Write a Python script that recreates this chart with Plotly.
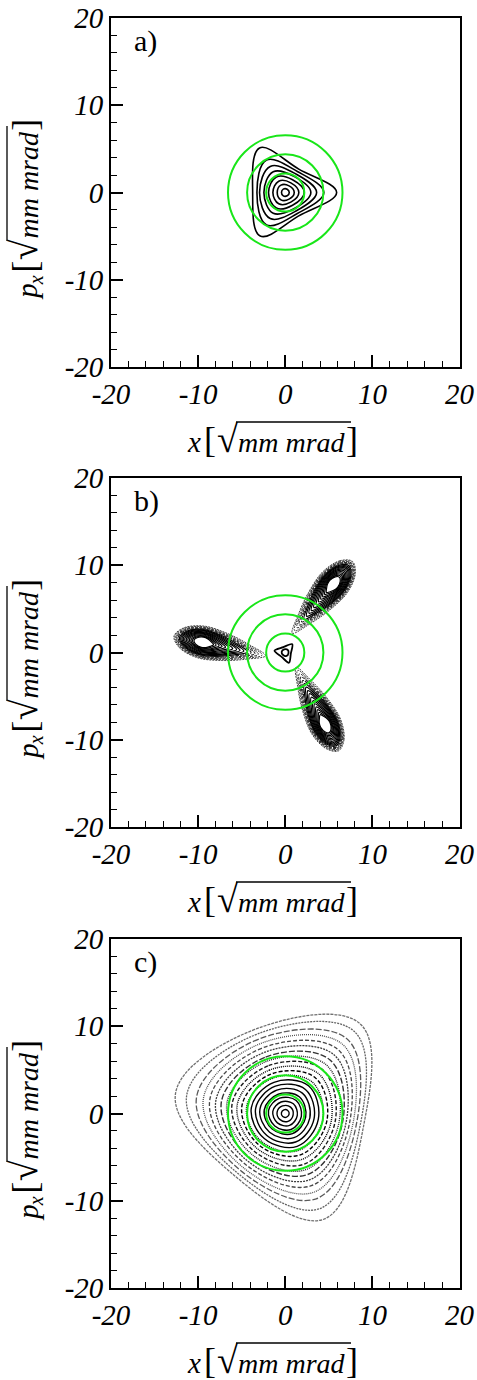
import math
import plotly.graph_objects as go

FONT = "Liberation Serif, Times New Roman, Times, serif"

# ---------------- data ----------------
TICK_VALS = [-20, -10, 0, 10, 20]
TICK_TEXT = ["-20", "-10", "0", "10", "20"]
PANEL_LABELS = ["a)", "b)", "c)"]

# green reference circles (1, 2, 3 sigma)
SIGMA_RADII = [2.19, 4.38, 6.57]

# panel a: invariant curves, radius (in sqrt(mm mrad)) at six directions
A_ANGLES = [0, 60, 120, 180, 240, 300]
A_RINGS = [
    [0.46, 0.44, 0.45, 0.43, 0.45, 0.44],
    [1.03, 0.88, 0.98, 0.92, 0.98, 0.88],
    [1.56, 1.28, 1.50, 1.42, 1.50, 1.28],
    [2.18, 1.68, 2.05, 1.92, 2.05, 1.68],
    [2.94, 2.10, 2.75, 2.45, 2.75, 2.10],
    [3.60, 2.45, 3.45, 2.95, 3.45, 2.45],
    [4.43, 2.78, 4.30, 3.25, 4.30, 2.78],
    [5.90, 3.10, 5.90, 3.74, 5.75, 3.10],
]

# panel b: three resonance islands (centre, axis direction, nested orbits)
PETAL_CX = [5.5, -9.4, 4.55]
PETAL_CY = [7.8, 1.15, -8.2]
PETAL_AXIS_DEG = [50, 168, -63]
PETAL_FAR = [1.1, 1.28, 1.46, 1.64, 1.82, 2.0, 2.18, 2.35, 2.5, 2.65, 2.8, 2.95, 3.1, 3.22, 3.34, 3.45]
PETAL_NEAR = [1.2, 1.5, 1.85, 2.2, 2.6, 3.0, 3.45, 3.9, 4.3, 4.75, 5.2, 5.6, 6.05, 6.45, 6.9, 7.3]
PETAL_HALF_W = [0.6, 0.68, 0.76, 0.84, 0.93, 1.02, 1.11, 1.2, 1.29, 1.37, 1.45, 1.53, 1.61, 1.69, 1.77, 1.85]
B_CORE_ANGLES = [50, 110, 170, 230, 290, 350]
B_CORE = [
    [0.42, 0.38, 0.42, 0.38, 0.42, 0.38],
    [1.25, 0.65, 1.25, 0.65, 1.25, 0.65],
]

# panel c: invariant curves at six directions
C_ANGLES = [50, 110, 170, 230, 290, 350]
C_RINGS = [
    [0.45, 0.45, 0.45, 0.45, 0.45, 0.45],
    [0.95, 0.92, 0.95, 0.92, 0.95, 0.92],
    [1.45, 1.40, 1.45, 1.40, 1.45, 1.40],
    [1.95, 1.87, 1.95, 1.87, 1.95, 1.88],
    [2.50, 2.35, 2.45, 2.33, 2.45, 2.38],
    [3.05, 2.85, 2.95, 2.80, 2.95, 2.87],
    [3.60, 3.33, 3.45, 3.28, 3.48, 3.36],
    [4.15, 3.80, 3.95, 3.75, 4.00, 3.85],
    [4.75, 4.30, 4.50, 4.20, 4.50, 4.35],
    [5.35, 4.80, 5.05, 4.70, 5.05, 4.85],
    [5.95, 5.30, 5.60, 5.15, 5.60, 5.35],
    [6.60, 5.80, 6.20, 5.60, 6.20, 5.80],
    [7.30, 6.35, 6.80, 6.05, 6.85, 6.25],
    [8.00, 6.85, 7.45, 6.50, 7.45, 6.65],
    [8.75, 7.40, 8.10, 6.95, 8.10, 7.05],
    [9.50, 7.95, 8.80, 7.40, 8.80, 7.45],
    [10.30, 8.50, 9.55, 7.85, 9.60, 7.85],
    [11.10, 9.05, 10.35, 8.30, 10.40, 8.25],
    [12.30, 9.65, 11.50, 8.75, 11.60, 8.70],
    [13.40, 10.25, 12.80, 9.20, 12.90, 9.10],
]

# ---------------- layout geometry ----------------
W, H = 477, 1380
X_DOM = [111 / W, 459.5 / W]
PANEL_TOP = [18, 478, 939]
PANEL_SIZE = 349


def ydom(top):
    return [1 - (top + PANEL_SIZE) / H, 1 - top / H]


def ring_xy(radii, angles):
    xs = [r * math.cos(math.radians(a)) for r, a in zip(radii, angles)]
    ys = [r * math.sin(math.radians(a)) for r, a in zip(radii, angles)]
    return xs + xs[:1], ys + ys[:1]


def petal_xy(cx, cy, axis_deg, far, near, hw):
    loc = [(far, 0), (0.75 * far, 0.62 * hw), (0.1 * far, hw), (-0.35 * near, 0.85 * hw),
           (-0.72 * near, 0.45 * hw), (-near, 0), (-0.72 * near, -0.45 * hw),
           (-0.35 * near, -0.85 * hw), (0.1 * far, -hw), (0.75 * far, -0.62 * hw)]
    ca, sa = math.cos(math.radians(axis_deg)), math.sin(math.radians(axis_deg))
    xs = [cx + u * ca - v * sa for u, v in loc]
    ys = [cy + u * sa + v * ca for u, v in loc]
    return xs + xs[:1], ys + ys[:1]


fig = go.Figure()


def add_curve(xs, ys, ax, color="black", width=1.4, dash="solid", smoothing=1.2):
    fig.add_trace(go.Scatter(
        x=xs, y=ys, mode="lines", xaxis="x" + ax, yaxis="y" + ax,
        line=dict(color=color, width=width, dash=dash, shape="spline", smoothing=smoothing),
        hoverinfo="skip", showlegend=False))


# panel a
for radii in A_RINGS:
    xs, ys = ring_xy(radii, A_ANGLES)
    add_curve(xs, ys, "", width=1.6, smoothing=1.1)

# panel b
PETAL_STYLES = ([("black", 1.2, "solid")] * 11
                + [("#1e1e1e", 1.1, "4px,1px"), ("#2a2a2a", 1.1, "3px,1px"),
                   ("#333333", 1.0, "3px,1px"), ("#3d3d3d", 1.0, "2px,1px"),
                   ("#474747", 1.0, "2px,1px")])
for p in range(3):
    for i in range(len(PETAL_FAR)):
        xs, ys = petal_xy(PETAL_CX[p], PETAL_CY[p], PETAL_AXIS_DEG[p],
                          PETAL_FAR[i], PETAL_NEAR[i], PETAL_HALF_W[i])
        col, wd, ds = PETAL_STYLES[i]
        add_curve(xs, ys, "2", color=col, width=wd, dash=ds, smoothing=1.0)
for radii in B_CORE:
    xs, ys = ring_xy(radii, B_CORE_ANGLES)
    add_curve(xs, ys, "2", width=1.8, smoothing=0.9)

# panel c
C_STYLES = (
    [("black", 1.4, "solid")] * 8
    + [("black", 1.4, "1px,1px"), ("black", 1.4, "4px,2px"), ("black", 1.4, "1px,1px"),
       ("#1a1a1a", 1.4, "4px,2px"), ("#262626", 1.4, "1px,1px"), ("#333333", 1.4, "6px,2px"),
       ("#3d3d3d", 1.3, "2px,1px"), ("#474747", 1.3, "4px,2px"), ("#505050", 1.3, "1px,1px"),
       ("#5a5a5a", 1.3, "6px,2px"), ("#646464", 1.3, "2px,1px"), ("#707070", 1.3, "3px,1px")]
)
for radii, (col, wd, ds) in zip(C_RINGS, C_STYLES):
    xs, ys = ring_xy(radii, C_ANGLES)
    add_curve(xs, ys, "3", color=col, width=wd, dash=ds, smoothing=1.1)

# axes
tickfont = dict(family=FONT, size=29, color="black", style="italic")
for k, ax in enumerate(["", "2", "3"]):
    common = dict(
        range=[-20, 20], tickmode="array", tickvals=TICK_VALS, ticktext=TICK_TEXT,
        ticks="inside", ticklen=12, tickwidth=1.6, tickcolor="black",
        showline=True, linecolor="black", linewidth=1.8, mirror=True, automargin=False,
        showgrid=False, zeroline=False, tickfont=tickfont,
        minor=dict(ticks="inside", ticklen=6, tickwidth=1.3, tickcolor="black",
                   tickmode="linear", tick0=0, dtick=2, showgrid=False),
    )
    fig.update_layout(**{
        "xaxis" + ax: dict(domain=X_DOM, anchor="y" + ax, **common),
        "yaxis" + ax: dict(domain=ydom(PANEL_TOP[k]), anchor="x" + ax, **common),
    })
    for r in SIGMA_RADII:
        fig.add_shape(type="circle", xref="x" + ax, yref="y" + ax, x0=-r, x1=r, y0=-r, y1=r,
                      line=dict(color="#19e619", width=2))

# ---------------- axis titles, typeset piece by piece ----------------
# (text, style, size, offset along the reading direction in px[, baseline shift])
TITLE_X_PIECES = [("x", "italic", 29, 0), ("[", "normal", 36, 17), ("√", "normal", 38, 29.5),
                  ("mm mrad", "italic", 28, 51), ("]", "normal", 36, 159)]
TITLE_Y_PIECES = [("p", "italic", 29, 0, 0), ("x", "italic", 20, 15, 6), ("[", "normal", 36, 27, 0),
                  ("√", "normal", 38, 39.5, 0), ("mm mrad", "italic", 28, 61, 0),
                  ("]", "normal", 36, 169, 0)]
X_TITLE_LEFT, X_TITLE_BASE = 187, 452      # panel a, pixels
Y_TITLE_BOTTOM, Y_TITLE_BASE = 300, 37


def px(xp, yp):
    return xp / W, 1 - yp / H


for k in range(3):
    dy = PANEL_TOP[k] - PANEL_TOP[0]
    for txt, sty, sz, off in TITLE_X_PIECES:
        x, y = px(X_TITLE_LEFT + off, X_TITLE_BASE + dy + 0.216 * sz)
        fig.add_annotation(text=txt, xref="paper", yref="paper", x=x, y=y, xanchor="left",
                           yanchor="bottom", showarrow=False, borderpad=0, borderwidth=0,
                           font=dict(family=FONT, size=sz, color="black", style=sty))
    x0, y0 = px(X_TITLE_LEFT + 49, X_TITLE_BASE + dy - 30)
    x1, _ = px(X_TITLE_LEFT + 164, 0)
    fig.add_shape(type="line", xref="paper", yref="paper", x0=x0, x1=x1, y0=y0, y1=y0,
                  line=dict(color="black", width=1.3))
    for txt, sty, sz, off, shift in TITLE_Y_PIECES:
        x, y = px(Y_TITLE_BASE + shift + 0.216 * sz, Y_TITLE_BOTTOM + dy - off)
        fig.add_annotation(text=txt, xref="paper", yref="paper", x=x, y=y, xanchor="right",
                           yanchor="bottom", showarrow=False, borderpad=0, borderwidth=0,
                           textangle=-90,
                           font=dict(family=FONT, size=sz, color="black", style=sty))
    xv, yv0 = px(Y_TITLE_BASE - 30, Y_TITLE_BOTTOM + dy - 59)
    _, yv1 = px(0, Y_TITLE_BOTTOM + dy - 174)
    fig.add_shape(type="line", xref="paper", yref="paper", x0=xv, x1=xv, y0=yv0, y1=yv1,
                  line=dict(color="black", width=1.3))
    lx, ly = px(132, PANEL_TOP[k] + 23)
    fig.add_annotation(text=PANEL_LABELS[k], xref="paper", yref="paper", x=lx, y=ly,
                       xanchor="left", yanchor="middle", showarrow=False,
                       font=dict(family=FONT, size=30, color="black"))

fig.update_layout(template="none", width=W, height=H, margin=dict(l=0, r=0, t=0, b=0),
                  paper_bgcolor="white", plot_bgcolor="white",
                  font=dict(family=FONT, color="black"))
fig.write_html("out.html")
